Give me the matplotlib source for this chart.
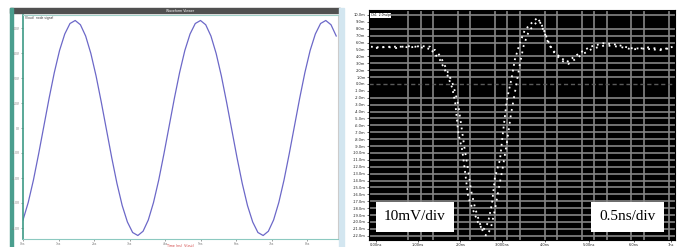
import numpy as np
import matplotlib.pyplot as plt
from matplotlib.patches import Rectangle

# ---- left window: simulated sine output ----
sim_t = np.linspace(0, 8.82, 61)
sim_v = [-3.68, -2.98, -2.08, -1.03, 0.08, 1.19, 2.22, 3.10, 3.76, 4.18, 4.30, 4.13,
         3.68, 2.98, 2.08, 1.03, -0.08, -1.19, -2.22, -3.10, -3.76, -4.18, -4.30, -4.13,
         -3.68, -2.98, -2.08, -1.03, 0.08, 1.19, 2.22, 3.10, 3.76, 4.18, 4.30, 4.13,
         3.68, 2.98, 2.08, 1.03, -0.08, -1.19, -2.22, -3.10, -3.76, -4.18, -4.30, -4.13,
         -3.68, -2.98, -2.08, -1.03, 0.08, 1.19, 2.22, 3.10, 3.76, 4.18, 4.30, 4.13, 3.68]
sim_xticks = [0, 1, 2, 3, 4, 5, 6, 7, 8]
sim_xlabels = ['0ns', '1ns', '2ns', '3ns', '4ns', '5ns', '6ns', '7ns', '8ns']
sim_yticks = [-4, -3, -2, -1, 0, 1, 2, 3, 4]
sim_ylabels = ['-4.0V', '-3.0V', '-2.0V', '-1.0V', '0V', '1.0V', '2.0V', '3.0V', '4.0V']

# ---- right window: measured pulse (two sweeps) ----
tA = [0.0, 0.2, 0.39, 0.6, 0.79, 1.0, 1.19, 1.25, 1.39, 1.54, 1.64, 1.70, 1.76, 1.84, 1.90,
      1.96, 2.06, 2.16, 2.26, 2.36, 2.44, 2.50, 2.60, 2.66, 2.74, 2.84, 2.90, 3.00, 3.10,
      3.26, 3.36, 3.46, 3.56, 3.66, 3.81, 3.95, 4.07, 4.21, 4.42, 4.68, 4.96, 5.22, 5.56,
      5.83, 6.09]
vA = [5.4, 5.3, 5.4, 5.4, 5.3, 5.5, 5.4, 4.6, 3.5, 1.3, -0.6, -2.8, -7.1, -9.6, -12.9,
      -16.4, -18.3, -20.1, -21.2, -20.1, -17.3, -13.5, -11.0, -7.1, -2.3, 1.0, 3.5, 5.9, 7.8,
      9.0, 9.6, 8.3, 6.4, 4.9, 3.9, 3.2, 3.8, 4.5, 5.4, 5.9, 5.7, 5.2, 5.1, 4.9, 5.4]
tB = [0.1, 0.3, 0.5, 0.7, 0.9, 1.1, 1.3, 1.40, 1.52, 1.66, 1.76, 1.82, 1.88, 1.96, 2.02,
      2.10, 2.20, 2.28, 2.34, 2.42, 2.50, 2.58, 2.66, 2.74, 2.82, 2.92, 3.00, 3.08, 3.18,
      3.30, 3.40, 3.50, 3.58, 3.70, 3.84, 3.98, 4.10, 4.24, 4.46, 4.72, 5.00, 5.28, 5.60,
      5.88, 6.05]
vB = [5.2, 5.4, 5.2, 5.5, 5.4, 5.2, 4.9, 4.0, 2.2, -0.2, -3.0, -6.0, -9.0, -12.5, -15.5,
      -18.0, -20.3, -21.8, -22.0, -20.8, -18.2, -15.0, -12.0, -8.5, -4.5, -0.5, 2.8, 5.6, 7.6,
      8.7, 9.1, 7.4, 5.8, 4.5, 3.4, 2.9, 3.5, 4.2, 5.1, 5.6, 5.4, 5.0, 5.3, 5.0, 5.2]
scope_vgrid = [0.75, 1.0, 1.25, 1.75, 2.0, 2.5, 2.75, 3.0, 3.5, 3.75, 4.25, 4.5, 4.75,
               5.25, 5.5, 6.0]
scope_hgrid = [10, 8, 7, 6, 4, 3, 2, 1, -2, -3, -4, -5, -6, -7, -8, -9, -10, -11, -12, -13,
               -14, -15, -16, -17, -18, -19, -20, -21, -22]
scope_yticks = list(range(-22, 11))
scope_ylabels = ['%.1fm' % v for v in scope_yticks]
scope_xticks = [0.1, 0.95, 1.8, 2.65, 3.5, 4.4, 5.3, 6.05]
scope_xlabels = ['0.00ns', '1.00ns', '2.0ns', '3.000ns', '4.0ns', '5.00ns', '6.0ns', '7ns']

W, H = 683, 247


def box(x0, y0, x1, y1):
    # pixel box -> figure fraction rect
    return [x0 / W, 1 - y1 / H, (x1 - x0) / W, (y1 - y0) / H]


fig = plt.figure(figsize=(6.83, 2.47), dpi=100)

# window frames
bg = fig.add_axes([0, 0, 1, 1])
bg.set_xlim(0, W)
bg.set_ylim(H, 0)
bg.axis('off')
bg.add_patch(Rectangle((10, 8), 330, 5, color='#505050'))
bg.add_patch(Rectangle((10, 8), 2.5, 239, color='#4a9e8e'))
bg.add_patch(Rectangle((339, 8), 5, 239, color='#d3e6f0'))
bg.text(180, 10.5, 'Waveform Viewer', color='white', fontsize=2.3, ha='center', va='center')

# left: sine
ax1 = fig.add_axes(box(23, 15, 338, 239))
ax1.plot(sim_t, sim_v, color='#6c68c8', lw=0.9)
ax1.set_xlim(0, 8.87)
ax1.set_ylim(-4.44, 4.52)
ax1.set_xticks(sim_xticks)
ax1.set_xticklabels(sim_xlabels)
ax1.set_yticks(sim_yticks)
ax1.set_yticklabels(sim_ylabels)
ax1.tick_params(labelsize=2.2, length=1.5, width=0.5, colors='#777777', pad=0.8)
ax1.spines['left'].set_color('#3d9a85')
ax1.spines['left'].set_linewidth(1.2)
ax1.spines['bottom'].set_color('#8cc9c0')
ax1.spines['top'].set_color('#9fd0c8')
ax1.spines['right'].set_color('#cccccc')
ax1.text(0.5, -0.022, 'Time (ns)  V(out)', transform=ax1.transAxes, color='#d04040',
         fontsize=2.3, ha='center', va='top')
ax1.text(0.005, 0.997, 'V(out)  node signal', transform=ax1.transAxes, fontsize=2.2,
         va='top', color='#333333')

# right: scope capture
ax2 = fig.add_axes(box(369, 10, 675, 240), facecolor='black')
ax2.set_xlim(-0.04, 6.13)
ax2.set_ylim(-22.61, 10.72)
for g in scope_vgrid:
    ax2.axvline(g, color='#858585', lw=1.2)
for g in scope_hgrid:
    ax2.axhline(g, color='#858585', lw=1.2)
ax2.axhline(0, color='#5a5a5a', lw=1.0, ls=(0, (3, 2)))
ax2.plot(tA, vA, color='white', lw=1.3, ls=(0, (1, 2.2)))
ax2.plot(tB, vB, color='white', lw=1.3, ls=(0, (1, 2.6)))
ax2.set_yticks(scope_yticks)
ax2.set_yticklabels(scope_ylabels)
ax2.set_xticks(scope_xticks)
ax2.set_xticklabels(scope_xlabels)
ax2.tick_params(labelsize=2.6, length=1.5, width=0.5, colors='#222222', pad=1)
for s in ax2.spines.values():
    s.set_color('black')
ax2.text(0.005, 0.985, 'Ch1  2.0ns/pt', transform=ax2.transAxes, fontsize=2.2, va='top',
         bbox=dict(facecolor='white', edgecolor='none', pad=0.3))
ax2.text(0.150, 0.10, '10mV/div', transform=ax2.transAxes, fontsize=11,
         family='Liberation Serif', ha='center', va='center',
         bbox=dict(boxstyle='square,pad=0.55', facecolor='white', edgecolor='none'))
ax2.text(0.846, 0.10, '0.5ns/div', transform=ax2.transAxes, fontsize=11,
         family='Liberation Serif', ha='center', va='center',
         bbox=dict(boxstyle='square,pad=0.55', facecolor='white', edgecolor='none'))

fig.savefig('out.png', dpi=100)
